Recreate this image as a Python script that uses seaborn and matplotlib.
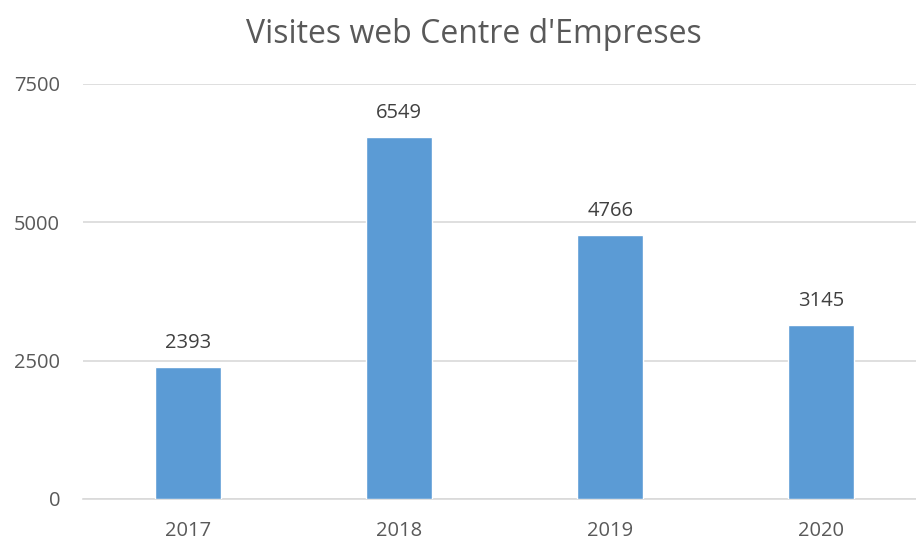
import matplotlib
matplotlib.use("Agg")
import matplotlib.pyplot as plt
import seaborn as sns
import pandas as pd

years = ["2017", "2018", "2019", "2020"]
visits = [2393, 6549, 4766, 3145]
yticks = [0, 2500, 5000, 7500]
title = "Visites web Centre d'Empreses"

sns.set_style("white")
plt.rcParams['font.family'] = ['Open Sans', 'DejaVu Sans']

df = pd.DataFrame({"year": years, "visits": visits})

fig = plt.figure(figsize=(9.16, 5.43), dpi=100)
ax = fig.add_axes([83/916, 1-499/543, 1-83/916, (499-84)/543])
sns.barplot(data=df, x="year", y="visits", color="#5b9bd5", saturation=1,
            width=66/211, ax=ax, zorder=3)
ax.set_xlim(-0.5, 3 + (916-821)/211)
ax.set_ylim(0, 7500)
ax.set_yticks(yticks)
ax.set_yticklabels([str(t) for t in yticks])
ax.grid(axis="y", color="#d9d9d9", linewidth=1.2, zorder=0)
ax.set_axisbelow(True)
for s in ["top", "right", "left"]:
    ax.spines[s].set_visible(False)
ax.spines["bottom"].set_color("#d9d9d9")
ax.spines["bottom"].set_linewidth(1.2)
ax.tick_params(axis="both", length=0, labelsize=14.5, colors="#595959")
ax.tick_params(axis="x", pad=16)
ax.tick_params(axis="y", pad=16.5)
ax.set_xlabel("")
ax.set_ylabel("")
for i, v in enumerate(visits):
    ax.annotate(str(v), (i, v), xytext=(0, 10), textcoords="offset points",
                ha="center", va="bottom", fontsize=14.5, color="#404040")
fig.text(474/916, 1-34/543, title, ha="center", va="center", fontsize=23, color="#595959")
fig.savefig("out.png", dpi=100)
